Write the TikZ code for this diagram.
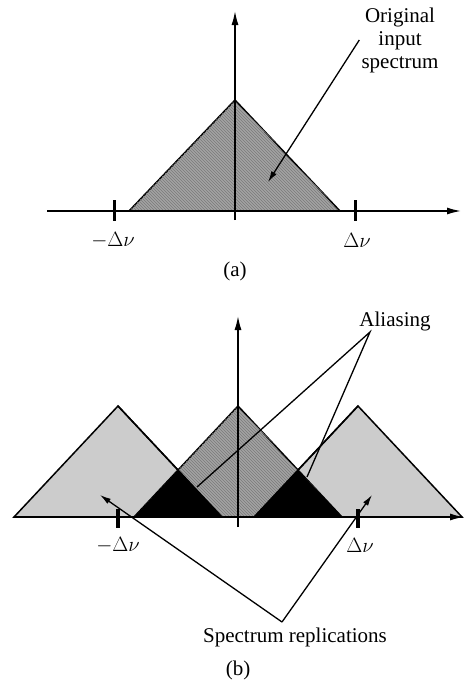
\documentclass[tikz,border=0pt]{standalone}
\usepackage{fontspec}
\setmainfont{Liberation Serif}
\usetikzlibrary{arrows.meta,patterns}

\begin{document}
\begin{tikzpicture}[
  x=1pt, y=-1pt,
  axis/.style={-{Latex[length=14pt,width=7pt]}, line width=1.5pt},
  spec/.style={draw, line width=1.5pt, line join=miter},
  orig/.style={spec, fill=black!36, postaction={pattern=north west lines, pattern color=black!52}},
  repl/.style={spec, fill=black!20},
  alias/.style={fill=black},
  tickmark/.style={line width=3pt},
  lbl/.style={font=\fontsize{21}{23}\selectfont, align=center, inner sep=2pt},
  pointer/.style={-{Latex[length=11pt,width=6pt]}, line width=1.3pt},
  guide/.style={line width=1.3pt}
]
\useasboundingbox (0,0) rectangle (467,683);

% (a) original spectrum
\coordinate (aL) at (129,211);
\coordinate (aT) at (235,100);
\coordinate (aR) at (340,211);
\filldraw[orig] (aL) -- (aT) -- (aR) -- cycle;
\draw[axis] (47,211) coordinate (ax0) -- (461,211) coordinate (ax1);
\draw[axis] (235,220) coordinate (ay0) -- (235,11) coordinate (ay1);
\draw[line width=2.4pt] (aL) -- (aR);
\draw[tickmark] (114,200) coordinate (atl) -- (114,221);
\draw[tickmark] (355,200) coordinate (atr) -- (355,221);
\node[lbl] (aneg) at (113,240) {$-\Delta\nu$};
\node[lbl] (apos) at (357,240) {$\Delta\nu$};
\node[lbl] (acap) at (235,271) {(a)};
\node[lbl] (origtxt) at (400,40) {Original\\input\\spectrum};
\coordinate (orighead) at (268,182);
\draw[pointer] (origtxt.west) -- (orighead);

% (b) sampled spectrum with aliasing
\coordinate (lL) at (14,517);  \coordinate (lT) at (118,406); \coordinate (lR) at (222,517);
\coordinate (cL) at (134,517); \coordinate (cT) at (238,406); \coordinate (cR) at (342,517);
\coordinate (rL) at (254,517); \coordinate (rT) at (358,406); \coordinate (rR) at (462,517);
\filldraw[repl] (lL) -- (lT) -- (lR) -- cycle;
\filldraw[repl] (rL) -- (rT) -- (rR) -- cycle;
\filldraw[orig] (cL) -- (cT) -- (cR) -- cycle;
\fill[alias] (cL) -- (178,470) -- (lR) -- cycle;
\fill[alias] (rL) -- (298,470) -- (cR) -- cycle;
\draw[spec] (lT) -- (lR);
\draw[spec] (rL) -- (rT);
\draw[axis] (15,517) coordinate (bx0) -- (464,517) coordinate (bx1);
\draw[axis] (238,527) coordinate (by0) -- (238,316) coordinate (by1);
\draw[line width=3.5pt] (118,509) coordinate (btl) -- (118,528);
\draw[line width=3.5pt] (358,509) coordinate (btr) -- (358,528);
\node[lbl] (bneg) at (118,545) {$-\Delta\nu$};
\node[lbl] (bpos) at (360,545) {$\Delta\nu$};
\node[lbl] (bcap) at (238,670) {(b)};

\node[lbl] (aliastxt) at (395,321) {Aliasing};
\coordinate (aliasfoot) at (370,332);
\coordinate (aliasl) at (197,487);
\coordinate (aliasr) at (307,477);
\draw[guide] (aliasl) -- (aliasfoot) -- (aliasr);

\node[lbl] (repltxt) at (295,637) {Spectrum replications};
\coordinate (replfoot) at (282,622);
\coordinate (repll) at (100,495);
\coordinate (replr) at (372,495);
\draw[pointer] (replfoot) -- (repll);
\draw[pointer] (replfoot) -- (replr);
\end{tikzpicture}
\end{document}
